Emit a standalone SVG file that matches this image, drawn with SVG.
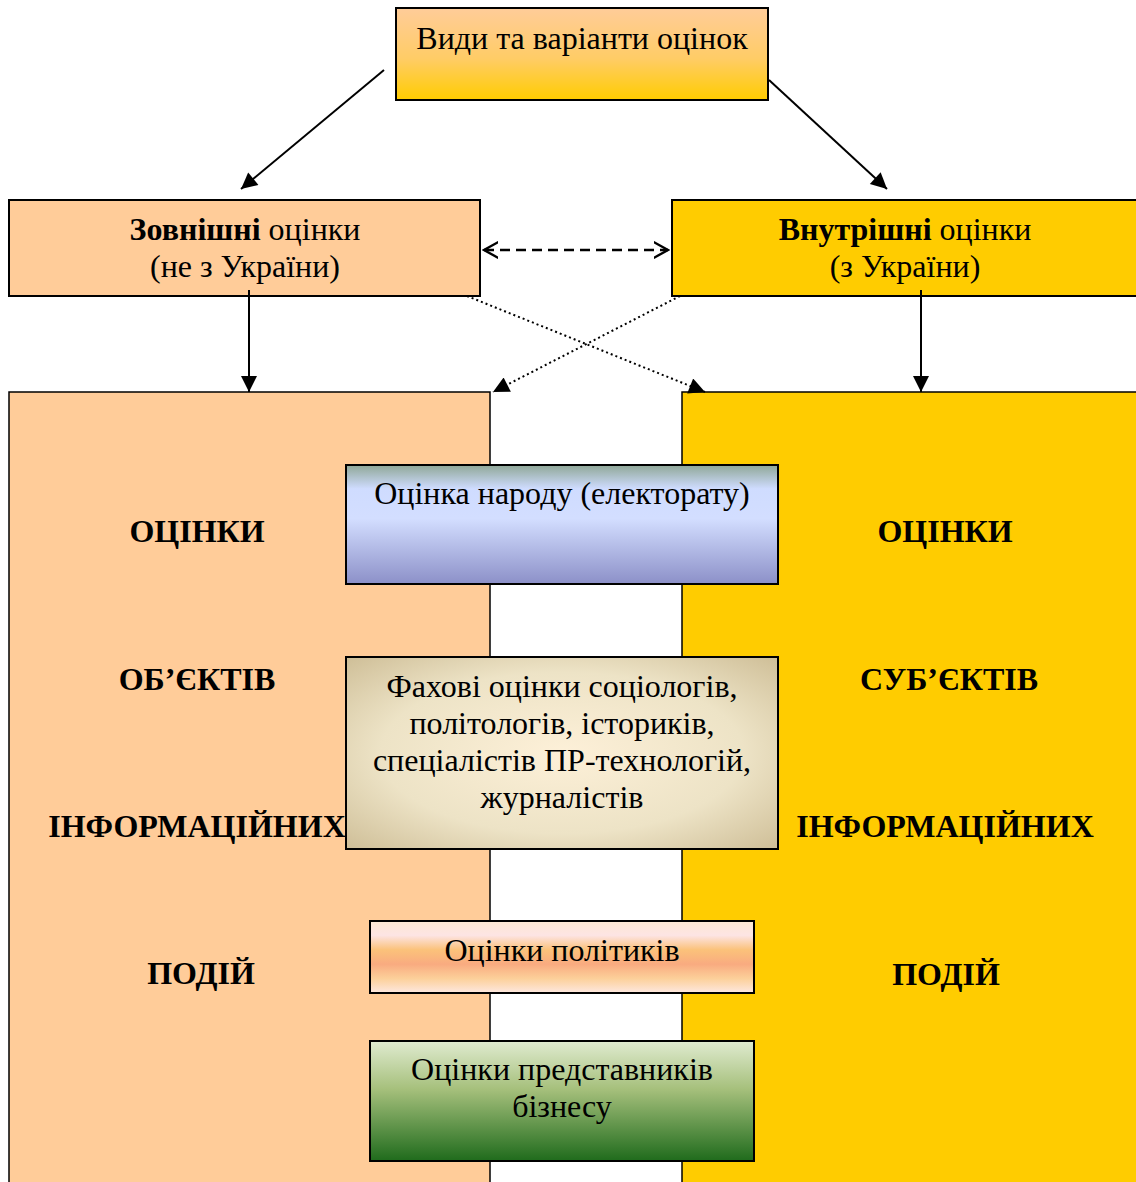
<svg xmlns="http://www.w3.org/2000/svg" width="1136" height="1182" viewBox="0 0 1136 1182">
<style>
text{font-family:"Liberation Serif","Times New Roman",serif;fill:#000;text-anchor:middle}
.t{font-size:32px}
.b{font-size:32px;font-weight:bold}
.box{stroke:#000;stroke-width:2}
.big{stroke:#000;stroke-width:1.5}
.ln{stroke:#000;stroke-width:2;fill:none}
.dot{stroke:#000;stroke-width:2;fill:none;stroke-dasharray:2 3}
.dash{stroke:#000;stroke-width:2.5;fill:none;stroke-dasharray:10 6}
</style>
<defs>
<linearGradient id="gTop" x1="0" y1="0" x2="0" y2="1">
<stop offset="0" stop-color="#ffcc99"/><stop offset="0.55" stop-color="#ffcc66"/><stop offset="1" stop-color="#ffcc00"/>
</linearGradient>
<linearGradient id="gBlue" x1="0" y1="0" x2="0" y2="1">
<stop offset="0" stop-color="#8fa797"/><stop offset="0.2" stop-color="#cfdcff"/><stop offset="0.45" stop-color="#d3deff"/><stop offset="1" stop-color="#8c90c8"/>
</linearGradient>
<radialGradient id="gPar" cx="0.5" cy="0.5" r="0.7">
<stop offset="0" stop-color="#fdf0d8"/><stop offset="0.6" stop-color="#ede3c6"/><stop offset="1" stop-color="#cfbf98"/>
</radialGradient>
<linearGradient id="gPol" x1="0" y1="0" x2="0" y2="1">
<stop offset="0" stop-color="#fde9d3"/><stop offset="0.2" stop-color="#fde4e4"/><stop offset="0.4" stop-color="#fbc27a"/><stop offset="0.6" stop-color="#f9ab80"/><stop offset="0.8" stop-color="#fcd09a"/><stop offset="1" stop-color="#fde8e0"/>
</linearGradient>
<linearGradient id="gGreen" x1="0" y1="0" x2="0" y2="1">
<stop offset="0" stop-color="#e0ebd0"/><stop offset="0.4" stop-color="#a6c07c"/><stop offset="1" stop-color="#1f6b1c"/>
</linearGradient>
<marker id="ahBig" viewBox="0 0 10 10" refX="10" refY="5" markerWidth="18" markerHeight="16" markerUnits="userSpaceOnUse" orient="auto">
<path d="M0,0 L10,5 L0,10 Z" fill="#000"/>
</marker>
<marker id="open" viewBox="0 0 10 10" refX="9" refY="5" markerWidth="16" markerHeight="20" markerUnits="userSpaceOnUse" orient="auto-start-reverse">
<path d="M0,0 L9,5 L0,10" fill="none" stroke="#000" stroke-width="1.5"/>
</marker>
</defs>

<g id="left-big"><rect class="big" x="9" y="392" width="481" height="800" fill="#ffcc99"/>
<text class="b" x="197" y="542">ОЦІНКИ</text>
<text class="b" x="197" y="690">ОБ’ЄКТІВ</text>
<text class="b" x="197" y="837">ІНФОРМАЦІЙНИХ</text>
<text class="b" x="201" y="984">ПОДІЙ</text></g>

<g id="right-big"><rect class="big" x="682" y="392" width="470" height="800" fill="#ffcc00"/>
<text class="b" x="945" y="542">ОЦІНКИ</text>
<text class="b" x="949" y="690">СУБ’ЄКТІВ</text>
<text class="b" x="945" y="837">ІНФОРМАЦІЙНИХ</text>
<text class="b" x="946" y="985">ПОДІЙ</text></g>

<g id="top"><rect class="box" x="396" y="8" width="372" height="92" fill="url(#gTop)"/>
<text class="t" x="582" y="49">Види та варіанти оцінок</text></g>

<g id="external"><rect class="box" x="9" y="200" width="471" height="96" fill="#ffcc99"/>
<text class="t" x="245" y="240"><tspan font-weight="bold">Зовнішні</tspan> оцінки</text>
<text class="t" x="245" y="277">(не з України)</text></g>

<g id="internal"><rect class="box" x="672" y="200" width="480" height="96" fill="#ffcc00"/>
<text class="t" x="905" y="240"><tspan font-weight="bold">Внутрішні</tspan> оцінки</text>
<text class="t" x="905" y="277">(з України)</text></g>

<g id="connectors">
<line class="ln" x1="384" y1="70" x2="241" y2="189" marker-end="url(#ahBig)"/>
<line class="ln" x1="769" y1="80" x2="887" y2="189" marker-end="url(#ahBig)"/>
<line class="ln" x1="249" y1="290" x2="249" y2="392" marker-end="url(#ahBig)"/>
<line class="ln" x1="921" y1="290" x2="921" y2="392" marker-end="url(#ahBig)"/>
<line class="dash" x1="484" y1="250" x2="668" y2="250" marker-start="url(#open)" marker-end="url(#open)"/>
<line class="dot" x1="467" y1="296" x2="705" y2="392" marker-end="url(#ahBig)"/>
<line class="dot" x1="680" y1="296" x2="493" y2="392" marker-end="url(#ahBig)"/>
</g>

<g id="people"><rect class="box" x="346" y="465" width="432" height="119" fill="url(#gBlue)"/>
<text class="t" x="562" y="504">Оцінка народу (електорату)</text></g>

<g id="experts"><rect class="box" x="346" y="657" width="432" height="192" fill="url(#gPar)"/>
<text class="t" x="562" y="697">Фахові оцінки соціологів,</text>
<text class="t" x="562" y="734">політологів, істориків,</text>
<text class="t" x="562" y="771">спеціалістів ПР-технологій,</text>
<text class="t" x="562" y="808">журналістів</text></g>

<g id="politicians"><rect class="box" x="370" y="921" width="384" height="72" fill="url(#gPol)"/>
<text class="t" x="562" y="961">Оцінки політиків</text></g>

<g id="business"><rect class="box" x="370" y="1041" width="384" height="120" fill="url(#gGreen)"/>
<text class="t" x="562" y="1080">Оцінки представників</text>
<text class="t" x="562" y="1117">бізнесу</text></g>
</svg>
